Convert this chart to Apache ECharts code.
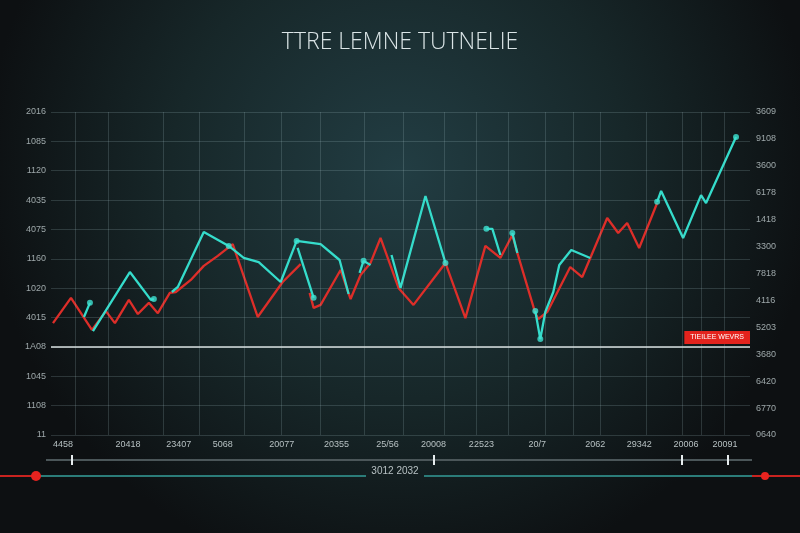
<!DOCTYPE html>
<html>
<head>
<meta charset="utf-8">
<script src="https://cdn.jsdelivr.net/npm/echarts@6/dist/echarts.min.js"></script>
<style>
html,body{margin:0;padding:0;background:#111517;}
#chart{width:800px;height:533px;}
</style>
</head>
<body>
<div id="chart"></div>
<script>
// ---- data ----
const titleText = 'TTRE LEMNE TUTNELIE';
const yLeftLabels = ['11','1108','1045','1A08','4015','1020','1160','4075','4035','1120','1085','2016'];
const yRightLabels = ['0640','6770','6420','3680','5203','4116','7818','3300','1418','6178','3600','9108','3609'];
const xTickValues = [12,77,128,172,231,286,337,383,431,487,545,589,636,675];
const xTickLabels = ['4458','20418','23407','5068','20077','20355','25/56','20008','22523','20/7','2062','29342','20006','20091'];
const gridXValues = [24,57,112,148,194,231,270,314,353,394,426,458,495,523,550,596,632,651,674];
const refLineValue = 300;
const refLineLabel = 'TIEILEE WEVRS';
const sliderLabel = '3012 2032';

// red series (null = break)
const redX = [2,20,41,55,64,78,87,98,107,119,125,140,153,167,182,207,232,250,null,
  259,263,270,290,300,310,320,330,348,363,395,415,435,450,462,467,485,488,497,520,532,557,568,577,589,607];
const redY = [381,467,358,422,381,460,412,450,415,484,487,528,576,610,650,402,521,582,null,
  484,433,443,562,463,545,586,671,501,443,586,398,644,603,681,620,415,395,419,572,538,739,688,722,637,790];

// teal series (null = break)
const tealX = [33,39,null,
  42,79,100,103,null,
  121,127,153,178,193,208,230,246,270,289,298,null,
  247,263,null,
  309,313,320,null,
  341,350,375,395,null,
  436,442,450,null,
  462,467,null,
  485,490,495,503,509,521,540,null,
  607,611,633,651,656,686];
const tealY = [402,450,null,
  354,555,460,463,null,
  487,504,691,644,603,589,521,661,650,596,480,null,
  637,467,null,
  552,593,579,null,
  613,501,814,586,null,
  702,702,613,null,
  688,620,null,
  422,327,419,487,579,630,603,null,
  794,831,671,817,790,1015];

// teal end dots
const dotX = [39,103,178,246,263,313,395,436,462,485,490,607,686];
const dotY = [450,463,644,661,467,593,586,702,688,422,327,794,1015];

// ---- build ----
function pairs(xs, ys){
  return xs.map((x,i)=> (x===null||ys[i]===null) ? ['-','-'] : [x, ys[i]]);
}
const chart = echarts.init(document.getElementById('chart'), null, {renderer:'canvas'});
const gridColor = 'rgba(165,195,200,0.20)';
const option = {
  animation:false,
  backgroundColor:{type:'radial',x:0.5,y:0.32,r:0.78,colorStops:[
    {offset:0,color:'#223d43'},{offset:0.55,color:'#172729'},{offset:1,color:'#0d1012'}]},
  title:{text:titleText,left:'center',top:26,textStyle:{color:'#dbe5e7',fontFamily:'Open Sans',fontWeight:300,fontSize:23}},
  grid:{left:51,right:50,top:112,bottom:98},
  xAxis:{type:'value',min:0,max:700,
    axisLine:{show:false},axisTick:{show:false},splitLine:{show:false},
    axisLabel:{customValues:xTickValues,color:'#b6c0c2',fontSize:9,margin:5,fontFamily:'Liberation Sans',
      formatter:v=>{const i=xTickValues.indexOf(v);return i>=0?xTickLabels[i]:'';}}},
  yAxis:[
    {type:'value',min:0,max:1100,interval:100,
      axisLine:{show:false},axisTick:{show:false},
      splitLine:{show:true,lineStyle:{color:gridColor,width:1}},
      axisLabel:{color:'#9ea8aa',fontSize:9,margin:5,fontFamily:'Liberation Sans',
        formatter:v=>yLeftLabels[Math.round(v/100)]||''}},
    {type:'value',position:'right',min:0,max:12,interval:1,
      axisLine:{show:false},axisTick:{show:false},splitLine:{show:false},
      axisLabel:{color:'#9ea8aa',fontSize:9,margin:6,fontFamily:'Liberation Sans',
        formatter:v=>yRightLabels[Math.round(v)]||''}}
  ],
  series:[
    {type:'line',data:[],z:1,silent:true,
      markLine:{silent:true,symbol:['none','none'],animation:false,
        label:{show:false},lineStyle:{color:gridColor,width:1,type:'solid'},
        data:gridXValues.map(v=>({xAxis:v}))}},
    {type:'line',name:'red',data:pairs(redX,redY),showSymbol:false,connectNulls:false,z:3,
      lineStyle:{color:'#dd2e29',width:2.3},itemStyle:{color:'#dd2e29'}},
    {type:'line',name:'teal',data:pairs(tealX,tealY),showSymbol:false,connectNulls:false,z:4,
      lineStyle:{color:'#35dccb',width:2.3},itemStyle:{color:'#35dccb'},
      markLine:{silent:true,symbol:['none','none'],animation:false,
        data:[{yAxis:refLineValue}],
        lineStyle:{color:'#d9e0e0',width:1.5,type:'solid'},
        label:{show:true,position:'insideEndTop',formatter:refLineLabel,distance:[0,3],
          backgroundColor:'#e3231d',color:'#ffffff',fontSize:7,padding:[3,6,3,6],fontFamily:'Liberation Sans'}}},
    {type:'scatter',data:pairs(dotX,dotY),symbolSize:6,z:5,itemStyle:{color:'#3ee2d2'}}
  ],
  graphic:[
    {type:'line',shape:{x1:46,y1:460,x2:752,y2:460},style:{stroke:'#4b5659',lineWidth:2},silent:true},
    {type:'rect',shape:{x:71,y:455,width:2,height:10},style:{fill:'#e6ecee'},silent:true},
    {type:'rect',shape:{x:433,y:455,width:2,height:10},style:{fill:'#e6ecee'},silent:true},
    {type:'rect',shape:{x:681,y:455,width:2,height:10},style:{fill:'#e6ecee'},silent:true},
    {type:'rect',shape:{x:727,y:455,width:2,height:10},style:{fill:'#e6ecee'},silent:true},
    {type:'line',shape:{x1:0,y1:476,x2:36,y2:476},style:{stroke:'#c9231f',lineWidth:2},silent:true},
    {type:'line',shape:{x1:36,y1:476,x2:366,y2:476},style:{stroke:'#2b7c79',lineWidth:2},silent:true},
    {type:'line',shape:{x1:424,y1:476,x2:752,y2:476},style:{stroke:'#2b7c79',lineWidth:2},silent:true},
    {type:'line',shape:{x1:752,y1:476,x2:800,y2:476},style:{stroke:'#c9231f',lineWidth:2},silent:true},
    {type:'circle',shape:{cx:36,cy:476,r:5},style:{fill:'#e8231f'},silent:true},
    {type:'circle',shape:{cx:765,cy:476,r:4},style:{fill:'#e8231f'},silent:true},
    {type:'text',x:395,y:471,style:{text:sliderLabel,fill:'#b7c1c3',font:'10px "Liberation Sans"',align:'center',verticalAlign:'middle'},silent:true}
  ]
};
chart.setOption(option);
</script>
</body>
</html>
